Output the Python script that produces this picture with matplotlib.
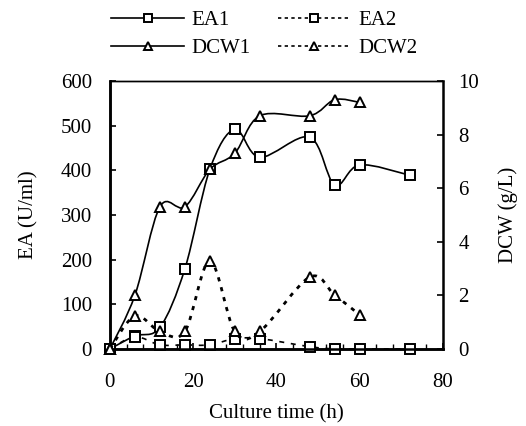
import matplotlib

matplotlib.use("Agg")

import matplotlib.pyplot as plt
import numpy as np
from matplotlib.lines import Line2D
from matplotlib.patches import PathPatch
from matplotlib.path import Path
from matplotlib.ticker import MultipleLocator

plt.rcParams["font.family"] = ["Liberation Serif", "DejaVu Serif"]
plt.rcParams["font.size"] = 15

# culture time (h)
time_h = [0, 6, 12, 18, 24, 30, 36, 48, 54, 60, 72]
# enzyme activity (U/ml)
ea1 = [0, 29, 48, 179, 402, 492, 429, 474, 367, 412, 389]
ea2 = [0, 27, 9, 9, 9, 23, 23, 5, 0, 0, 0]
# dry cell weight (g/L), measured up to 60 h
time_dcw = [0, 6, 12, 18, 24, 30, 36, 48, 54, 60]
dcw1 = [0, 2.0, 5.3, 5.3, 6.7, 7.3, 8.7, 8.7, 9.3, 9.2]
dcw2 = [0, 1.23, 0.65, 0.65, 3.28, 0.65, 0.65, 2.68, 2.01, 1.27]


def smooth_path(ax, xs, ys, **kw):
    """Excel-style smoothed connector drawn as cubic Bezier segments."""
    pts = np.column_stack([xs, ys]).astype(float)
    verts = [pts[0]]
    codes = [Path.MOVETO]
    n = len(pts)
    for i in range(n - 1):
        p0 = pts[i - 1] if i > 0 else pts[i]
        p1, p2 = pts[i], pts[i + 1]
        p3 = pts[i + 2] if i + 2 < n else pts[i + 1]
        c1 = p1 + (p2 - p0) / 6.0
        c2 = p2 - (p3 - p1) / 6.0
        verts += [c1, c2, p2]
        codes += [Path.CURVE4] * 3
    patch = PathPatch(Path(verts, codes), facecolor="none", **kw)
    ax.add_patch(patch)


fig = plt.figure(figsize=(5.26, 4.26), dpi=100)
ax = fig.add_axes([0.209, 0.181, 0.633, 0.629])
ax2 = ax.twinx()

lw = 1.2
mk = dict(markersize=7.5, markerfacecolor="white", markeredgecolor="black",
          markeredgewidth=1.4, linestyle="none", zorder=5, clip_on=False)

smooth_path(ax, time_h, ea1, edgecolor="black", linewidth=lw)
smooth_path(ax, time_h, ea2, edgecolor="black", linewidth=lw, linestyle=(0, (3, 4)))
ax.plot(time_h, ea1, marker="s", **mk)
ax.plot(time_h, ea2, marker="s", **mk)

smooth_path(ax2, time_dcw, dcw1, edgecolor="black", linewidth=lw)
smooth_path(ax2, time_dcw, dcw2, edgecolor="black", linewidth=2.0, linestyle=(0, (1.5, 2.2)))
ax2.plot(time_dcw, dcw1, marker="^", **mk)
ax2.plot(time_dcw, dcw2, marker="^", **mk)

ax.set_xlim(0, 80)
ax.set_ylim(0, 600)
ax2.set_ylim(0, 10)
ax.xaxis.set_major_locator(MultipleLocator(20))
ax.xaxis.set_minor_locator(MultipleLocator(4))
ax.yaxis.set_major_locator(MultipleLocator(100))
ax2.yaxis.set_major_locator(MultipleLocator(2))

for a in (ax, ax2):
    for s in a.spines.values():
        s.set_linewidth(1.8)
    a.spines["top"].set_linewidth(1.0)
    a.tick_params(direction="in", length=4, width=1.2)
    a.tick_params(which="minor", direction="in", length=3.5, width=1.0)
ax.spines["right"].set_visible(False)
ax.tick_params(axis="x", pad=17)
ax.tick_params(axis="y", pad=13)
ax2.tick_params(axis="y", pad=11)

ax.set_xlabel("Culture time (h)", labelpad=9)
ax.set_ylabel("EA (U/ml)", labelpad=16)
ax2.set_ylabel("DCW (g/L)", labelpad=14)

handles = [
    Line2D([], [], color="black", lw=lw, marker="s", markersize=6,
           markerfacecolor="white", markeredgewidth=1.4, label="EA1"),
    Line2D([], [], color="black", lw=lw, marker="^", markersize=6,
           markerfacecolor="white", markeredgewidth=1.4, label="DCW1"),
    Line2D([], [], color="black", lw=lw, ls=(0, (2, 2)), marker="s", markersize=6,
           markerfacecolor="white", markeredgewidth=1.4, label="EA2"),
    Line2D([], [], color="black", lw=lw, ls=(0, (2, 2)), marker="^", markersize=6,
           markerfacecolor="white", markeredgewidth=1.4, label="DCW2"),
]
fig.legend(handles=handles, ncol=2, loc="upper left", bbox_to_anchor=(0.188, 1.005),
           frameon=False, handlelength=3.5, handletextpad=0.35, columnspacing=1.3,
           labelspacing=0.4, borderaxespad=0.2)

fig.savefig("out.png", dpi=100)
